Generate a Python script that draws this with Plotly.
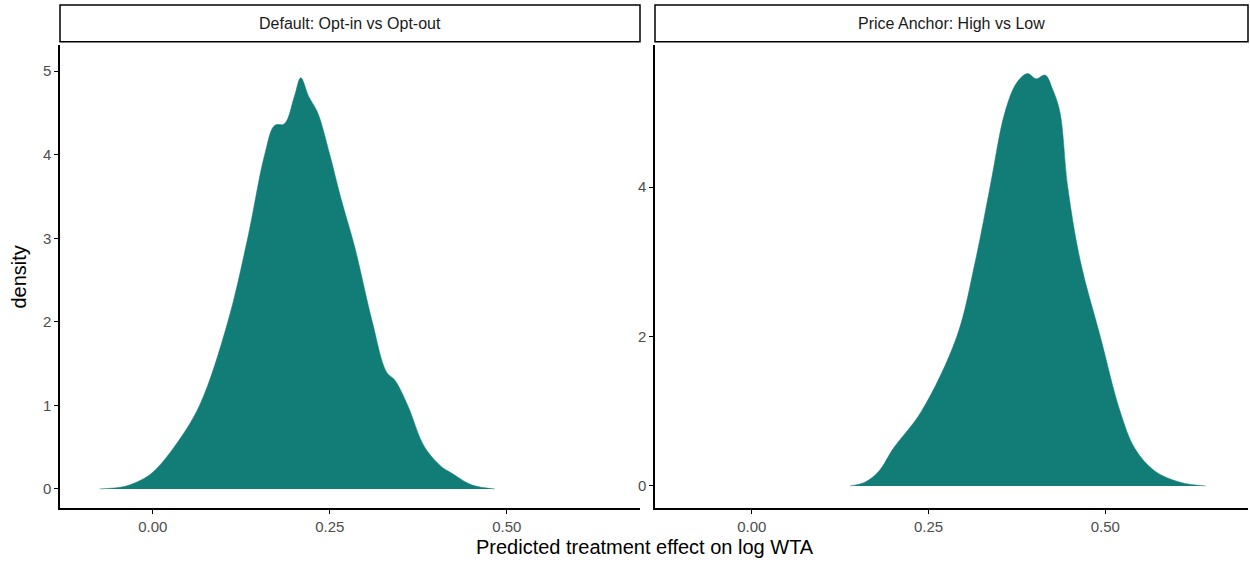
import plotly.graph_objects as go

# density curves
default_x = [-0.075, -0.04, -0.018, 0.0, 0.03, 0.066, 0.106, 0.134, 0.158, 0.172, 0.186, 0.2, 0.209,
             0.22, 0.233, 0.25, 0.265, 0.285, 0.31, 0.33, 0.342, 0.36, 0.384, 0.41, 0.42, 0.45, 0.483]
default_y = [0.0, 0.03, 0.1, 0.2, 0.5, 1.0, 2.0, 3.0, 4.0, 4.35, 4.37, 4.7, 4.92,
             4.7, 4.5, 4.0, 3.5, 2.9, 2.0, 1.4, 1.3, 1.0, 0.5, 0.25, 0.2, 0.05, 0.0]

anchor_x = [0.139, 0.16, 0.18, 0.2, 0.24, 0.29, 0.316, 0.337, 0.358, 0.375, 0.39, 0.402, 0.415,
            0.426, 0.436, 0.447, 0.465, 0.493, 0.521, 0.542, 0.57, 0.606, 0.642]
anchor_y = [0.0, 0.05, 0.2, 0.5, 1.0, 2.0, 3.0, 4.0, 5.0, 5.4, 5.52, 5.45, 5.5,
            5.3, 5.0, 4.0, 3.0, 2.0, 1.0, 0.5, 0.2, 0.05, 0.0]

panels = ["Default: Opt-in vs Opt-out", "Price Anchor: High vs Low"]
fill = "#127C77"
font = "Liberation Sans, Arial, sans-serif"

fig = go.Figure()
fig.add_trace(go.Scatter(x=default_x, y=default_y, fill="tozeroy", fillcolor=fill, mode="lines",
                         line=dict(color=fill, width=0.5, shape="spline"), xaxis="x", yaxis="y"))
fig.add_trace(go.Scatter(x=anchor_x, y=anchor_y, fill="tozeroy", fillcolor=fill, mode="lines",
                         line=dict(color=fill, width=0.5, shape="spline"), xaxis="x2", yaxis="y2"))

ax = dict(showgrid=False, zeroline=False, showline=True, linecolor="black", linewidth=1.5,
          ticks="outside", ticklen=4, tickcolor="black",
          tickfont=dict(size=15, color="#4d4d4d", family=font))
ydom = [0.101, 0.92]
fig.update_layout(
    xaxis=dict(ax, domain=[0.048, 0.512], range=[-0.131, 0.688], tickvals=[0, 0.25, 0.5],
               ticktext=["0.00", "0.25", "0.50"], anchor="y"),
    yaxis=dict(ax, domain=ydom, range=[-0.227, 5.31], tickvals=[0, 1, 2, 3, 4, 5], anchor="x"),
    xaxis2=dict(ax, domain=[0.524, 0.9984], range=[-0.137, 0.702], tickvals=[0, 0.25, 0.5],
                ticktext=["0.00", "0.25", "0.50"], anchor="y2"),
    yaxis2=dict(ax, domain=ydom, range=[-0.294, 5.9], tickvals=[0, 2, 4], anchor="x2"),
    showlegend=False, plot_bgcolor="white", paper_bgcolor="white",
    width=1250, height=565, margin=dict(l=0, r=0, t=0, b=0),
)

for dom, label in zip([[0.048, 0.512], [0.524, 0.9984]], panels):
    fig.add_shape(type="rect", xref="paper", yref="paper", x0=dom[0], x1=dom[1], y0=0.926, y1=0.991,
                  line=dict(color="black", width=1.5), fillcolor="white")
    fig.add_annotation(x=(dom[0] + dom[1]) / 2, y=0.958, xref="paper", yref="paper", text=label,
                       xanchor="center", yanchor="middle",
                       showarrow=False, font=dict(size=16, color="#1a1a1a", family=font))

fig.add_annotation(x=0.516, y=0.008, xref="paper", yref="paper", yanchor="bottom", xanchor="center",
                   text="Predicted treatment effect on log WTA", showarrow=False,
                   font=dict(size=20, color="black", family=font))
fig.add_annotation(x=0.015, y=0.51, xref="paper", yref="paper", text="density", textangle=-90,
                   xanchor="center", yanchor="middle",
                   showarrow=False, font=dict(size=20, color="black", family=font))

fig.write_html("out.html", config={"displayModeBar": False},
               post_script="document.body.style.margin='0';")
